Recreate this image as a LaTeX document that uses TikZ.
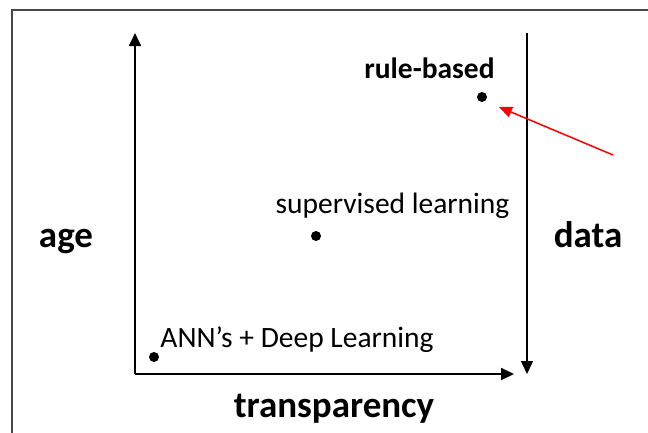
\documentclass[tikz,border=0pt]{standalone}
\usepackage{fontspec}
\setmainfont{Carlito}
\usetikzlibrary{arrows.meta}
\begin{document}
\begin{tikzpicture}[x=1pt,y=-1pt,
  axis/.style={line width=1.8pt,-{Triangle[length=13pt,width=12pt]}},
  dot/.style={circle,fill=black,inner sep=0pt,minimum size=10pt},
  lbl/.style={font=\fontsize{29.5}{34}\selectfont,inner sep=0pt,anchor=base},
  bold/.style={font=\fontsize{37}{42}\selectfont\bfseries,inner sep=0pt,anchor=base}]
  \useasboundingbox (0,0) rectangle (648,432);
  \clip (0,0) rectangle (648,432);
  % frame
  \draw[line width=2.2pt,black!72] (12,10) rectangle (720,520);
  % axes
  \coordinate (corner) at (135,374);
  \coordinate (ytop) at (135,33);
  \coordinate (xend) at (514,374);
  \coordinate (dtop) at (527,33);
  \coordinate (dend) at (527,374);
  \draw[axis] (corner) -- (ytop);
  \draw[axis] (corner) -- (xend);
  \draw[axis,line width=1.4pt] (dtop) -- (dend);
  % points
  \node[dot] (rb) at (482,97) {};
  \node[dot] (sl) at (316,236) {};
  \node[dot] (ann) at (154,357) {};
  \node[lbl,font=\fontsize{29.5}{34}\selectfont\bfseries] (rbl) at (429.5,78) {rule-based};
  \node[lbl] (sll) at (392.5,213) {supervised learning};
  \node[lbl] (annl) at (297,347) {ANN’s + Deep Learning};
  % axis labels
  \node[bold] (age) at (66,247) {age};
  \node[bold] (data) at (588,247) {data};
  \node[bold] (tr) at (334,417) {transparency};
  % pointer
  \coordinate (ptr) at (613,155);
  \draw[red,line width=1.5pt,-{Triangle[length=13pt,width=11pt]}] (ptr) -- (499,107);
\end{tikzpicture}
\end{document}
